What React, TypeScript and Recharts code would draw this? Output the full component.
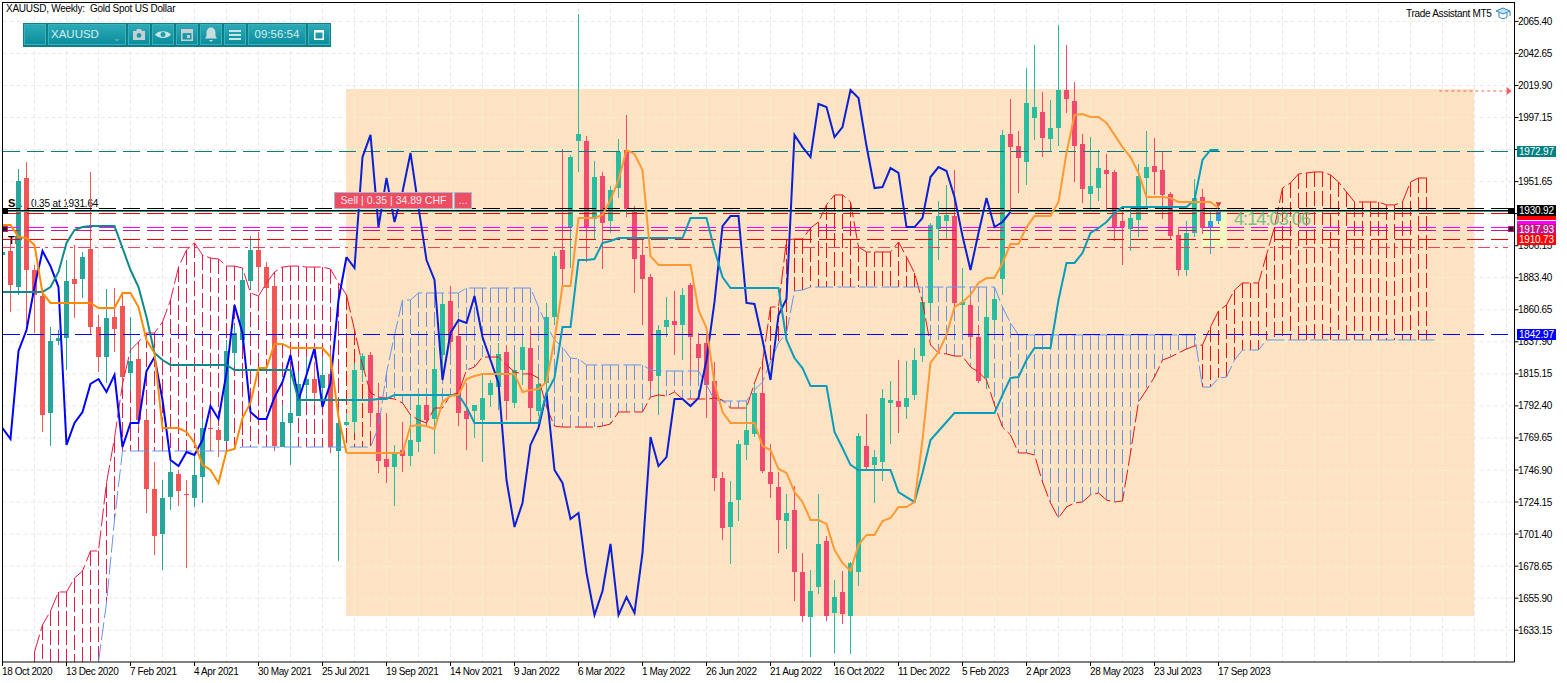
import React from "react";
import { ComposedChart, Bar, Line, XAxis, YAxis, CartesianGrid, ReferenceArea, ReferenceLine, ReferenceDot } from "recharts";

const opens = [1899.6,1902.4,1876.8,1954.2,1888.9,1870.4,1787.4,1838.5,1840.6,1882.5,1882.5,1903.8,1848.4,1827.1,1855.5,1863.3,1815.8,1825.7,1782.4,1733.4,1701.5,1727.7,1744.1,1729.9,1727.0,1741.9,1776.7,1775.3,1767.5,1830.0,1839.2,1881.1,1903.1,1891.0,1877.5,1763.2,1780.3,1785.2,1807.3,1811.5,1805.1,1815.1,1760.4,1778.9,1781.0,1817.9,1828.6,1787.4,1754.7,1749.0,1761.1,1756.8,1766.8,1793.1,1783.1,1828.6,1866.9,1842.0,1788.8,1788.8,1782.4,1800.2,1805.8,1830.7,1794.5,1817.9,1833.5,1788.8,1808.7,1855.5,1903.1,1919.4,1980.5,1980.5,1925.1,1955.6,1923.7,1947.1,1974.1,1931.5,1899.6,1883.9,1813.6,1848.4,1852.7,1849.9,1878.3,1836.4,1837.1,1810.1,1741.2,1706.4,1725.6,1764.7,1772.5,1801.6,1745.5,1734.8,1710.7,1718.5,1674.5,1642.5,1663.8,1696.5,1645.4,1660.3,1643.2,1674.5,1763.9,1750.5,1752.6,1794.5,1795.9,1791.6,1800.2,1827.8,1865.5,1918.0,1923.7,1927.2,1864.1,1864.1,1841.3,1812.2,1853.4,1882.5,1985.5,1976.9,1965.6,1996.8,2001.1,1981.9,1989.7,2016.7,2008.9,1978.4,1942.9,1947.1,1959.9,1958.5,1923.7,1918.0,1924.4,1954.2,1962.7,1959.9,1942.9,1913.8,1888.9,1915.2,1940.7,1919.4,1923.7];
const highs = [1903.1,1911.6,1960.6,1965.6,1892.5,1874.7,1848.4,1846.3,1896.0,1906.7,1901.7,1958.5,1857.0,1875.4,1876.1,1872.6,1855.5,1835.7,1789.5,1752.6,1739.8,1754.0,1746.9,1739.8,1759.0,1783.8,1783.8,1777.4,1839.2,1849.9,1888.9,1913.0,1915.9,1894.6,1885.4,1793.1,1815.8,1816.5,1827.1,1823.6,1827.1,1832.1,1787.4,1787.4,1822.9,1830.0,1830.7,1808.7,1787.4,1764.7,1781.0,1786.0,1798.7,1798.7,1834.2,1871.2,1877.5,1849.9,1808.7,1793.1,1815.8,1810.8,1837.1,1835.7,1827.1,1839.2,1848.4,1815.8,1865.5,1901.7,1974.8,1970.6,2070.7,1984.0,1966.3,1958.5,1948.5,1981.9,1999.0,1934.3,1910.2,1886.1,1849.9,1869.7,1874.0,1876.1,1879.7,1844.2,1842.8,1823.6,1745.5,1739.1,1768.2,1794.5,1808.7,1817.9,1765.4,1745.5,1729.9,1735.5,1688.0,1675.9,1729.9,1700.0,1668.8,1675.2,1681.6,1773.2,1786.7,1761.1,1804.4,1810.1,1825.0,1824.3,1833.5,1869.7,1922.3,1937.9,1949.3,1959.9,1890.3,1867.6,1849.9,1867.6,1871.2,1988.3,2010.3,1987.6,2032.3,2048.7,2015.3,2009.6,2062.9,2048.7,2022.4,1985.5,1983.3,1974.1,1971.3,1959.9,1931.5,1933.6,1964.2,1987.6,1982.6,1973.4,1944.3,1919.4,1923.7,1953.5,1946.4,1930.8,1933.6];
const lows = [1897.4,1859.1,1871.2,1849.9,1844.2,1773.9,1763.9,1835.7,1817.9,1854.8,1869.0,1842.8,1816.5,1808.7,1830.7,1803.7,1803.7,1776.7,1716.4,1686.6,1675.9,1718.5,1721.3,1677.3,1720.6,1723.5,1761.1,1756.1,1767.5,1820.7,1835.7,1874.7,1873.3,1853.4,1760.4,1763.2,1750.5,1785.2,1795.2,1793.1,1793.1,1759.0,1682.3,1778.1,1773.2,1809.4,1777.4,1744.8,1737.7,1721.3,1745.5,1749.7,1759.7,1778.9,1758.3,1810.8,1832.1,1778.1,1761.1,1769.6,1752.6,1791.6,1789.5,1782.4,1790.9,1807.3,1781.0,1785.2,1803.7,1849.9,1878.3,1890.3,1958.5,1894.6,1910.9,1889.6,1915.2,1940.0,1926.5,1872.6,1849.9,1803.7,1786.0,1841.3,1828.6,1825.0,1810.8,1815.8,1783.8,1732.0,1697.2,1680.2,1710.7,1754.0,1770.3,1744.8,1727.0,1688.0,1690.8,1653.9,1639.0,1614.1,1658.9,1639.7,1617.0,1637.6,1616.3,1664.5,1747.6,1723.5,1739.1,1765.4,1773.2,1783.1,1796.6,1823.6,1860.5,1896.0,1910.9,1860.5,1846.3,1832.1,1808.7,1804.4,1847.7,1871.2,1931.5,1943.6,1949.3,1981.2,1969.1,1973.4,1976.9,2000.4,1951.4,1936.5,1931.5,1937.9,1931.5,1909.5,1892.5,1902.4,1912.3,1931.5,1942.2,1925.1,1910.9,1884.6,1884.6,1912.3,1914.5,1900.3,1921.6];
const closes = [1901.7,1878.3,1952.1,1888.9,1871.2,1786.0,1838.5,1840.6,1881.1,1879.0,1898.1,1848.4,1827.1,1854.8,1847.0,1812.9,1824.3,1782.4,1733.4,1700.0,1727.0,1745.5,1732.0,1729.2,1743.4,1776.7,1776.0,1768.2,1831.4,1844.2,1881.8,1903.1,1891.0,1876.1,1763.9,1781.0,1787.4,1808.0,1811.5,1801.6,1814.4,1763.2,1780.3,1781.0,1817.9,1827.8,1787.4,1753.3,1749.0,1759.7,1756.8,1768.2,1793.1,1782.4,1818.6,1864.8,1837.8,1787.4,1783.1,1793.1,1798.0,1808.7,1829.3,1795.9,1817.9,1834.2,1790.9,1808.0,1855.5,1898.8,1889.6,1969.1,1985.5,1919.4,1954.9,1922.3,1945.7,1972.7,1932.2,1896.7,1882.5,1810.1,1846.3,1853.4,1849.9,1871.2,1841.3,1826.4,1807.3,1741.2,1705.7,1724.2,1765.4,1775.3,1801.6,1746.2,1737.0,1711.4,1716.4,1674.5,1643.2,1661.0,1694.4,1643.2,1656.7,1644.7,1680.9,1771.0,1749.0,1756.1,1798.0,1796.6,1791.6,1798.0,1825.0,1866.2,1920.9,1927.2,1928.0,1865.5,1866.2,1841.3,1810.1,1855.5,1868.3,1984.8,1976.2,1968.4,2007.5,2004.6,1982.6,1989.7,2016.7,2010.3,1976.9,1946.4,1948.5,1961.3,1957.1,1919.4,1919.4,1925.8,1955.6,1962.0,1958.5,1942.2,1913.0,1888.9,1915.2,1940.0,1918.7,1923.7,1930.1];

const kijun = [1873.3,1873.3,1873.3,1873.3,1873.3,1873.3,1876.8,1887.5,1908.1,1917.3,1919.4,1920.1,1920.1,1920.1,1920.1,1904.5,1888.9,1876.8,1855.5,1830.0,1825.0,1821.5,1821.5,1821.5,1821.5,1821.5,1821.5,1821.5,1821.5,1817.9,1817.9,1817.9,1817.9,1817.9,1817.9,1817.9,1817.9,1796.6,1796.6,1796.6,1796.6,1796.6,1796.6,1796.6,1796.6,1796.6,1796.6,1797.3,1797.3,1800.2,1800.2,1800.2,1800.2,1800.2,1800.2,1800.2,1800.2,1800.2,1791.6,1780.3,1780.3,1780.3,1780.3,1780.3,1780.3,1780.3,1780.3,1780.3,1801.6,1812.2,1848.4,1848.4,1896.0,1896.0,1896.7,1908.1,1909.5,1911.6,1911.6,1911.6,1911.6,1911.6,1911.6,1911.6,1911.6,1911.6,1925.8,1925.8,1925.8,1903.1,1883.9,1876.1,1876.1,1876.1,1876.1,1876.1,1876.1,1876.1,1839.2,1826.4,1819.3,1806.5,1806.5,1806.5,1773.9,1762.5,1750.5,1746.9,1746.9,1746.9,1746.9,1746.9,1731.3,1727.7,1724.2,1744.8,1768.2,1774.6,1781.0,1787.4,1787.4,1787.4,1787.4,1787.4,1787.4,1800.2,1812.2,1812.9,1825.0,1833.5,1833.5,1833.5,1867.6,1893.9,1893.9,1901.0,1915.2,1918.7,1923.0,1929.4,1933.6,1933.6,1933.6,1933.6,1933.6,1933.6,1933.6,1933.6,1933.6,1938.6,1967.0,1974.1,1974.1];
const tenkan = [1920.9,1920.9,1912.3,1911.6,1906.7,1872.6,1865.5,1865.5,1865.5,1865.5,1865.5,1865.5,1861.9,1861.9,1861.9,1872.6,1872.6,1862.6,1839.2,1830.0,1776.7,1776.7,1776.7,1773.9,1766.1,1750.5,1746.9,1737.7,1760.4,1761.8,1783.8,1794.5,1819.3,1819.3,1836.4,1836.4,1833.5,1833.5,1833.5,1833.5,1833.5,1827.1,1784.5,1759.0,1759.0,1759.0,1759.0,1759.0,1759.0,1759.0,1759.0,1778.1,1778.9,1778.1,1776.0,1795.2,1799.4,1800.2,1811.5,1813.6,1815.1,1815.1,1815.1,1815.1,1815.1,1802.3,1803.7,1804.4,1809.4,1839.2,1877.5,1877.5,1925.8,1925.8,1925.8,1928.0,1938.6,1952.8,1974.1,1971.3,1959.9,1898.8,1892.5,1892.5,1892.5,1892.5,1892.5,1860.5,1847.7,1808.7,1788.1,1780.3,1780.3,1780.3,1780.3,1763.9,1761.1,1747.6,1744.8,1731.3,1724.2,1711.4,1711.4,1708.6,1690.1,1680.9,1675.2,1693.7,1700.8,1700.8,1710.7,1712.8,1720.6,1720.6,1724.2,1768.2,1822.9,1830.7,1842.8,1862.6,1866.2,1871.2,1879.7,1883.2,1883.2,1893.9,1907.4,1907.4,1919.4,1927.2,1927.2,1927.2,1937.2,1972.0,1999.0,1999.7,1997.5,1997.5,1993.3,1984.8,1976.2,1969.1,1957.8,1940.7,1940.7,1940.7,1940.0,1937.2,1937.2,1937.2,1937.2,1937.2,1932.9];
const chikou = [1776.7,1768.9,1831.4,1846.3,1876.8,1902.4,1891.7,1876.8,1764.7,1780.3,1788.1,1808.0,1811.5,1802.3,1814.4,1763.2,1780.3,1780.3,1817.2,1827.1,1796.6,1754.0,1749.7,1759.7,1757.6,1768.2,1792.3,1783.1,1815.8,1864.1,1844.2,1788.1,1783.1,1783.1,1798.7,1809.4,1828.6,1796.6,1814.4,1833.5,1791.6,1808.7,1867.6,1898.1,1890.3,1969.1,1984.8,1919.4,1954.2,1923.0,1944.3,1972.0,1933.6,1896.0,1881.8,1810.8,1844.2,1853.4,1851.3,1870.4,1841.3,1825.0,1808.7,1739.8,1706.4,1723.5,1764.7,1776.7,1801.6,1746.9,1737.7,1712.1,1716.4,1673.8,1643.9,1661.0,1694.4,1643.9,1656.7,1645.4,1688.0,1770.3,1749.7,1756.1,1797.3,1797.3,1792.3,1798.0,1825.0,1866.2,1920.1,1927.2,1927.2,1865.5,1864.8,1839.2,1810.8,1857.0,1868.3,1984.8,1976.2,1969.1,2006.8,2004.6,1983.3,1990.4,2016.7,2011.0,1976.9,1947.1,1947.8,1961.3,1957.8,1919.4,1919.4,1925.8,1954.9,1962.0,1959.2,1940.7,1913.0,1888.9,1915.2,1940.0,1919.4,1923.0,1930.1];

const spanAStart = 4;
const spanA = [1617.7,1636.9,1646.8,1660.3,1660.3,1670.2,1675.2,1689.4,1689.4,1737.7,1769.6,1808.0,1832.1,1837.8,1844.2,1844.2,1852.0,1867.6,1891.0,1903.1,1908.1,1899.6,1897.4,1896.7,1891.7,1891.7,1890.3,1872.6,1870.4,1879.7,1887.5,1891.0,1891.7,1891.7,1891.0,1891.0,1891.0,1889.6,1879.7,1871.2,1846.3,1821.5,1801.6,1798.7,1798.0,1797.3,1794.5,1786.0,1782.4,1780.3,1790.9,1790.9,1800.2,1801.6,1817.9,1820.0,1827.1,1827.1,1827.1,1821.5,1816.5,1815.1,1815.1,1812.2,1791.6,1778.1,1777.4,1777.4,1777.4,1777.4,1777.4,1778.1,1779.6,1788.1,1788.1,1788.1,1788.1,1798.7,1800.2,1799.4,1802.3,1797.3,1797.3,1797.3,1797.3,1798.0,1796.6,1790.9,1790.9,1790.9,1808.7,1823.6,1862.6,1862.6,1910.2,1910.9,1910.9,1918.7,1923.0,1935.1,1942.2,1942.2,1937.2,1905.2,1901.7,1901.7,1901.7,1901.7,1908.8,1898.1,1886.8,1866.2,1835.7,1830.0,1829.3,1827.8,1827.8,1820.0,1816.5,1810.8,1793.1,1777.4,1771.8,1759.0,1759.0,1757.6,1738.4,1723.5,1712.8,1720.6,1723.5,1724.2,1729.2,1730.6,1725.6,1724.2,1724.9,1759.0,1795.2,1803.7,1812.9,1825.0,1827.1,1830.0,1832.8,1834.9,1835.7,1848.4,1859.8,1864.1,1874.7,1879.7,1879.7,1879.7,1899.6,1919.4,1947.1,1950.7,1957.1,1957.8,1958.5,1958.5,1956.4,1951.4,1944.3,1937.2,1937.2,1937.2,1937.2,1935.1,1935.1,1937.2,1951.4,1954.2,1954.2];
const spanBStart = 12;
const spanB = [1610.7,1652.5,1711.4,1760.4,1760.4,1760.4,1760.4,1760.4,1760.4,1760.4,1760.4,1760.4,1760.4,1760.4,1760.4,1760.4,1760.4,1761.8,1763.2,1763.2,1763.2,1763.2,1763.2,1763.2,1763.2,1763.2,1763.2,1763.2,1763.2,1763.2,1763.2,1763.2,1763.2,1763.2,1763.2,1777.4,1815.8,1842.8,1867.6,1867.6,1872.6,1872.6,1872.6,1872.6,1872.6,1872.6,1876.1,1876.1,1876.1,1876.1,1876.1,1876.1,1876.1,1876.1,1876.1,1862.6,1849.9,1839.2,1834.2,1826.4,1825.7,1821.5,1821.5,1821.5,1821.5,1821.5,1821.5,1821.5,1821.5,1817.9,1817.2,1817.2,1817.2,1817.2,1817.2,1817.2,1807.3,1796.6,1795.9,1795.9,1795.9,1795.9,1803.7,1809.4,1823.6,1837.1,1844.2,1874.0,1874.7,1876.8,1876.8,1876.8,1876.8,1876.8,1876.8,1876.8,1876.8,1876.8,1876.8,1876.8,1876.8,1876.8,1876.8,1876.8,1876.8,1876.8,1876.8,1876.8,1876.8,1876.8,1876.8,1876.8,1876.8,1862.6,1851.3,1842.8,1842.8,1842.8,1842.8,1842.8,1842.8,1842.8,1842.8,1842.8,1842.8,1842.8,1842.8,1842.8,1842.8,1842.8,1842.8,1842.8,1842.8,1842.8,1842.8,1842.8,1842.8,1842.8,1805.8,1805.8,1812.2,1812.9,1825.0,1832.1,1832.1,1832.1,1839.2,1839.2,1839.2,1839.2,1839.2,1839.2,1839.2,1839.2,1839.2,1839.2,1839.2,1839.2,1839.2,1839.2,1839.2,1839.2,1839.2,1839.2,1839.2,1839.2,1839.2,1839.2];

const priceTicks = [2065.40,2042.65,2019.90,1997.15,1974.40,1951.65,1928.90,1906.15,1883.40,1860.65,1837.90,1815.15,1792.40,1769.65,1746.90,1724.15,1701.40,1678.65,1655.90,1633.15];
const coveredTicks = [1974.40, 1928.90];
const dateLabels = ["18 Oct 2020","13 Dec 2020","7 Feb 2021","4 Apr 2021","30 May 2021","25 Jul 2021","19 Sep 2021","14 Nov 2021","9 Jan 2022","6 Mar 2022","1 May 2022","26 Jun 2022","21 Aug 2022","16 Oct 2022","11 Dec 2022","5 Feb 2023","2 Apr 2023","28 May 2023","23 Jul 2023","17 Sep 2023"];
const dateTickIdx = dateLabels.map((_, k) => k * 8);
const gridIdx = Array.from({ length: 48 }, (_, k) => k * 4);
const PEACH_START = 42.94;
const PEACH_END = 183.94;
const PEACH_TOP = 2017.4;
const PEACH_BOTTOM = 1643.4;
const Y_MAX = 2079.18;
const Y_MIN = 1610.58;
const X_MAX = 189;
const TOTAL = 180;
const SPLIT = 43;

const hLines = [
  { y: 1973.0, color: "#0B7B7B", dash: "17 7", w: 1 },
  { y: 1932.4, color: "#000000", dash: "17 7", w: 1 },
  { y: 1929.2, color: "#F00000", dash: "17 7", w: 1 },
  { y: 1918.9, color: "#FF00FF", dash: "17 7", w: 1 },
  { y: 1917.3, color: "#C71585", dash: "17 7", w: 1 },
  { y: 1910.73, color: "#F00000", dash: "17 7", w: 1 },
  { y: 1905.0, color: "#EE4060", dash: "12 5 3 5", w: 1 },
  { y: 1842.97, color: "#0000FF", dash: "17 7", w: 1 },
];
const priceBoxes = [
  { y: 1972.97, text: "1972.97", bg: "#008080" },
  { y: 1928.0, text: "", bg: "#FF0000" },
  { y: 1930.92, text: "1930.92", bg: "#000000" },
  { y: 1919.9, text: "", bg: "#FF00FF" },
  { y: 1917.93, text: "1917.93", bg: "#C71585" },
  { y: 1910.73, text: "1910.73", bg: "#FF0000" },
  { y: 1842.97, text: "1842.97", bg: "#0000FF" },
];
const priceToTop = (p: number) => 2 + ((Y_MAX - p) / (Y_MAX - Y_MIN)) * 660;

const FONT = "'Liberation Sans', Arial, sans-serif";

const rows = Array.from({ length: TOTAL }, (_, i) => {
  const a = i >= spanAStart ? spanA[i - spanAStart] : null;
  const b = i >= spanBStart ? spanB[i - spanBStart] : null;
  const row: any = { i };
  if (i < opens.length) {
    row.o = opens[i]; row.h = highs[i]; row.l = lows[i]; row.c = closes[i];
    row.range = [lows[i], highs[i]];
  }
  if (a !== null) {
    const lower = b !== null ? b : Y_MIN;
    row.a = a; row.b = b;
    row.cloud = [Math.min(a, lower), Math.max(a, lower)];
    row.bull = a >= lower;
  }
  const pick = (arr: number[], at: number, left: boolean) => (at < arr.length && (left ? at <= SPLIT : at >= SPLIT) ? arr[at] : null);
  row.tenkanL = pick(tenkan, i, true); row.tenkanP = pick(tenkan, i, false);
  row.kijunL = pick(kijun, i, true); row.kijunP = pick(kijun, i, false);
  row.chikouL = pick(chikou, i, true); row.chikouP = pick(chikou, i, false);
  row.aL = a !== null && i <= SPLIT ? a : null;
  row.aP = a !== null && i >= SPLIT ? a : null;
  return row;
});

const PeachZone = (p: any) => {
  const perBar = p.width / (PEACH_END - PEACH_START);
  const perPrice = p.height / (PEACH_TOP - PEACH_BOTTOM);
  return (
    <g shapeRendering="crispEdges">
      <rect x={p.x} y={p.y} width={p.width} height={p.height} fill="#FDE3C4" />
      {gridIdx.filter((v) => v > PEACH_START && v < PEACH_END).map((v) => {
        const x = p.x + (v - PEACH_START) * perBar;
        return <line key={"v" + v} x1={x} x2={x} y1={p.y} y2={p.y + p.height} stroke="#F3F3C4" strokeDasharray="4 3" />;
      })}
      {priceTicks.filter((v) => v > PEACH_BOTTOM && v < PEACH_TOP).map((v) => {
        const y = p.y + (PEACH_TOP - v) * perPrice;
        return <line key={"h" + v} x1={p.x} x2={p.x + p.width} y1={y} y2={y} stroke="#F3F3C4" strokeDasharray="4 3" />;
      })}
    </g>
  );
};

const Candle = (p: any) => {
  const d = p.payload;
  if (!d || d.o === undefined) return null;
  const cx = p.x + p.width / 2;
  const k = p.height / (d.h - d.l);
  const yOf = (v: number) => p.y + (d.h - v) * k;
  const up = d.c >= d.o;
  const late = d.i >= 151;
  const inPeach = d.i >= SPLIT;
  const col = late ? "#2E9FE6" : up ? (inPeach ? "#27BE9F" : "#26A69A") : inPeach ? "#F2496E" : "#F15555";
  const t = Math.min(yOf(d.o), yOf(d.c));
  const b = Math.max(yOf(d.o), yOf(d.c));
  return (
    <g shapeRendering="crispEdges">
      <rect x={cx - 0.5} y={p.y} width={1} height={p.height} fill={col} />
      <rect x={cx - 2.5} y={t} width={5} height={Math.max(b - t, 1)} fill={col} />
    </g>
  );
};

const Hash = (p: any) => {
  const d = p.payload;
  if (!d || !d.cloud) return null;
  const cx = p.x + p.width / 2;
  const col = d.bull ? (d.i < SPLIT ? "#E8194B" : "#EE1111") : "#6495ED";
  return <line x1={cx} x2={cx} y1={p.y} y2={p.y + p.height} stroke={col} strokeWidth={1} strokeDasharray="15 4" shapeRendering="crispEdges" />;
};

const PriceTick = (p: any) =>
  coveredTicks.includes(p.payload.value) ? null : (
    <text x={1518} y={p.y + 3.5} fontSize={10} letterSpacing={-0.3} fontFamily={FONT} fill="#000">{Number(p.payload.value).toFixed(2)}</text>
  );
const DateTick = (p: any) => (
  <text x={p.x - 0.5} y={675} fontSize={10} letterSpacing={-0.4} fontFamily={FONT} fill="#000">{dateLabels[p.payload.value / 8]}</text>
);

const square = (fill: string, stroke: string) => (p: any) => (
  <rect x={p.cx - 2.5} y={p.cy - 2.5} width={5} height={5} fill={fill} stroke={stroke} shapeRendering="crispEdges" />
);
const arrowRight = (p: any) => <path d={`M${p.cx - 3} ${p.cy - 4}L${p.cx + 2} ${p.cy}L${p.cx - 3} ${p.cy + 4}Z`} fill="#F06060" />;
const tradeMark = (p: any) => <path d={`M${p.cx - 3} ${p.cy - 2}L${p.cx + 3} ${p.cy - 2}L${p.cx} ${p.cy + 3}Z`} fill="#E53935" />;

const btn: React.CSSProperties = {
  position: "absolute", top: 1, height: 21, boxSizing: "border-box",
  background: "linear-gradient(#2CA9B6,#0C8E9E)", border: "1px solid #3AB0BC",
  color: "#D4EEF1", fontFamily: FONT, fontSize: 11.5, lineHeight: "19px",
  display: "flex", alignItems: "center", justifyContent: "center",
};

const icons: Record<string, React.ReactNode> = {
  camera: <path d="M3 5h3l1-2h4l1 2h3v9H3z M9 7a2.4 2.4 0 1 0 .01 0z" fill="#C7CFD2" fillRule="evenodd" />,
  eye: <path d="M1 8.5C4 4 14 4 17 8.5C14 13 4 13 1 8.5z M9 6a2.5 2.5 0 1 0 .01 0z" fill="#C9E3E6" fillRule="evenodd" />,
  cal: <path d="M3 3h12v12H3z M4.5 7v6.5h9V7z M9 9h3v3H9z" fill="#C7CFD2" fillRule="evenodd" />,
  bell: <path d="M9 1.5c3 0 4.5 2.5 4.5 5.5v3l1.5 2.5H3L4.5 10V7C4.5 4 6 1.5 9 1.5z M7 14h4l-2 2z" fill="#C9DDE0" />,
  menu: <path d="M3 4h12v2H3z M3 8h12v2H3z M3 12h12v2H3z" fill="#C9E3E6" />,
  restore: <path d="M4 4h10v10H4z M5.5 6.5v6h7v-6z" fill="#fff" fillRule="evenodd" />,
};

const Toolbar = () => (
  <div style={{ position: "absolute", left: 23, top: 23, width: 308, height: 24, background: "#0D7F87", zIndex: 3 }}>
    <div style={{ ...btn, left: 1, width: 22 }} />
    <div style={{ ...btn, left: 25, width: 78, justifyContent: "flex-start", paddingLeft: 2 }}>XAUUSD<span style={{ position: "absolute", right: 4, top: 4, fontSize: 9, color: "#7FC4CC" }}>⌄</span></div>
    {[["camera", 105], ["eye", 129], ["cal", 153], ["bell", 177], ["menu", 201]].map(([k, x]) => (
      <div key={k as string} style={{ ...btn, left: x as number, width: 22 }}>
        <svg width={18} height={18} viewBox="0 0 18 18">{icons[k as string]}</svg>
      </div>
    ))}
    <div style={{ ...btn, left: 225, width: 58 }}>09:56:54</div>
    <div style={{ ...btn, left: 285, width: 22 }}>
      <svg width={18} height={18} viewBox="0 0 18 18">{icons.restore}</svg>
    </div>
  </div>
);

export default function App() {
  return (
    <div style={{ position: "absolute", left: 0, top: 0, width: 1567, height: 683, background: "#fff", overflow: "hidden" }}>
      <div style={{ position: "absolute", left: 8, top: 197, fontFamily: FONT, fontSize: 11, fontWeight: 700 }}>SL</div>
      <div style={{ position: "absolute", left: 31, top: 198, fontFamily: FONT, fontSize: 10, letterSpacing: -0.15 }}>0.35 at 1931.64</div>
      <div style={{ position: "absolute", left: 8, top: 234, fontFamily: FONT, fontSize: 11, fontWeight: 700 }}>TP</div>
      <div style={{ position: "absolute", left: 0, top: 0 }}>
        <ComposedChart width={1567} height={683} data={rows} margin={{ top: 2, right: 0, bottom: 0, left: 2.5 }}>
          <CartesianGrid stroke="#E8E8E8" strokeDasharray="4 3" verticalValues={gridIdx} horizontalValues={priceTicks} />
          <XAxis dataKey="i" type="number" domain={[0, X_MAX]} ticks={dateTickIdx} interval={0} height={21} tickSize={4} stroke="#000" tick={DateTick} allowDataOverflow />
          <XAxis xAxisId="cloud" dataKey="i" type="number" domain={[0, X_MAX]} hide allowDataOverflow />
          <YAxis orientation="right" type="number" domain={[Y_MIN, Y_MAX]} ticks={priceTicks} interval={0} width={52.5} tickSize={4} stroke="#000" tick={PriceTick} allowDataOverflow />

          <ReferenceArea x1={PEACH_START} x2={PEACH_END} y1={PEACH_BOTTOM} y2={PEACH_TOP} shape={PeachZone} ifOverflow="visible" />
          <ReferenceArea x1={149.9} x2={153} y1={1905.2} y2={1930.8} fill="#F3F9BE" fillOpacity={1} stroke="none" />

          <Bar xAxisId="cloud" dataKey="cloud" barSize={1} shape={Hash} isAnimationActive={false} />
          <Line dataKey="aL" stroke="#E8194B" strokeWidth={1} strokeDasharray="18 4" dot={false} connectNulls={false} isAnimationActive={false} />
          <Line dataKey="aP" stroke="#EE1111" strokeWidth={1} strokeDasharray="18 4" dot={false} connectNulls={false} isAnimationActive={false} />
          <Line dataKey="b" stroke="#6495ED" strokeWidth={1} strokeDasharray="18 4" dot={false} connectNulls={false} isAnimationActive={false} />

          {hLines.map((l) => (
            <ReferenceLine key={"h" + l.y} segment={[{ x: 0, y: l.y }, { x: 188.2, y: l.y }]} stroke={l.color} strokeWidth={l.w} strokeDasharray={l.dash} shapeRendering="crispEdges" />
          ))}

          <Bar dataKey="range" barSize={5} shape={Candle} isAnimationActive={false} />

          <ReferenceLine segment={[{ x: 0, y: 1930.92 }, { x: 188.2, y: 1930.92 }]} stroke="#000" strokeWidth={1} shapeRendering="crispEdges" />
          <ReferenceLine segment={[{ x: 0, y: 1930.3 }, { x: 188.2, y: 1930.3 }]} stroke="#1E9E8E" strokeWidth={1} shapeRendering="crispEdges" />
          <ReferenceLine segment={[{ x: 179.6, y: 2016 }, { x: 188, y: 2016 }]} stroke="#F06060" strokeDasharray="3 3" />

          <Line dataKey="chikouL" stroke="#0000FF" strokeWidth={2} dot={false} connectNulls={false} isAnimationActive={false} />
          <Line dataKey="chikouP" stroke="#0A1FD6" strokeWidth={2} dot={false} connectNulls={false} isAnimationActive={false} />
          <Line dataKey="kijunL" stroke="#0E8A8A" strokeWidth={2} dot={false} connectNulls={false} isAnimationActive={false} />
          <Line dataKey="kijunP" stroke="#0A9CBB" strokeWidth={2} dot={false} connectNulls={false} isAnimationActive={false} />
          <Line dataKey="tenkanL" stroke="#FF8C00" strokeWidth={2} dot={false} connectNulls={false} isAnimationActive={false} />
          <Line dataKey="tenkanP" stroke="#FF9933" strokeWidth={2} dot={false} connectNulls={false} isAnimationActive={false} />

          <ReferenceDot x={152} y={1935.5} r={3} shape={tradeMark} />
          <ReferenceDot x={188.4} y={2016} r={3} shape={arrowRight} ifOverflow="visible" />
          <ReferenceDot x={0.35} y={1930.9} r={3} shape={square("#000", "#000")} ifOverflow="visible" />
          <ReferenceDot x={0.35} y={1918.2} r={3} shape={square("#222", "#C71585")} ifOverflow="visible" />
          <ReferenceDot x={188.5} y={1930.9} r={3} shape={square("#000", "#000")} ifOverflow="visible" />
          <ReferenceDot x={188.5} y={1918.2} r={3} shape={square("#222", "#C71585")} ifOverflow="visible" />
        </ComposedChart>
      </div>

      {priceBoxes.map((b) => (
        <div key={b.y} style={{ position: "absolute", left: 1517, top: priceToTop(b.y) - 5.5, width: 39, height: 11, background: b.bg, color: "#fff", fontFamily: FONT, fontSize: 10, letterSpacing: -0.2, lineHeight: "11px", paddingLeft: 2, boxSizing: "border-box" }}>{b.text}</div>
      ))}

      <div style={{ position: "absolute", left: 2, top: 2, width: 1512, height: 660, borderTop: "1px solid #000", borderLeft: "1px solid #000", pointerEvents: "none" }} />
      <div style={{ position: "absolute", left: 6, top: 3, fontFamily: FONT, fontSize: 10, letterSpacing: -0.25, whiteSpace: "pre" }}>XAUUSD, Weekly:  Gold Spot US Dollar</div>
      <Toolbar />
      <div style={{ position: "absolute", left: 334, top: 192, width: 119, height: 17, boxSizing: "border-box", background: "#EE4D63", border: "1px solid #A9B8D2", color: "#FDE8EA", fontFamily: FONT, fontSize: 10.5, lineHeight: "15px", textAlign: "center" }}>Sell | 0.35 | 34.89 CHF</div>
      <div style={{ position: "absolute", left: 454, top: 192, width: 18, height: 17, boxSizing: "border-box", background: "#EE4D63", border: "1px solid #A9B8D2", color: "#FDE8EA", fontFamily: FONT, fontSize: 11, lineHeight: "15px", textAlign: "center" }}>...</div>
      <div style={{ position: "absolute", left: 1234, top: 209, fontFamily: FONT, fontSize: 18, letterSpacing: -0.9, color: "#5DB97B", opacity: 0.85, whiteSpace: "pre" }}>4:14:03:06</div>
      <div style={{ position: "absolute", left: 1406, top: 8, fontFamily: FONT, fontSize: 10, letterSpacing: -0.3, whiteSpace: "pre" }}>Trade Assistant MT5</div>
      <svg style={{ position: "absolute", left: 1495, top: 6 }} width={16} height={15} viewBox="0 0 16 15">
        <path d="M1 5L8 2L15 5L8 8Z" fill="#BFE3F5" stroke="#2E86C1" />
        <path d="M4 7V11C6 13 10 13 12 11V7" fill="none" stroke="#2E86C1" />
        <path d="M15 5V10" stroke="#2E86C1" />
      </svg>
    </div>
  );
}
